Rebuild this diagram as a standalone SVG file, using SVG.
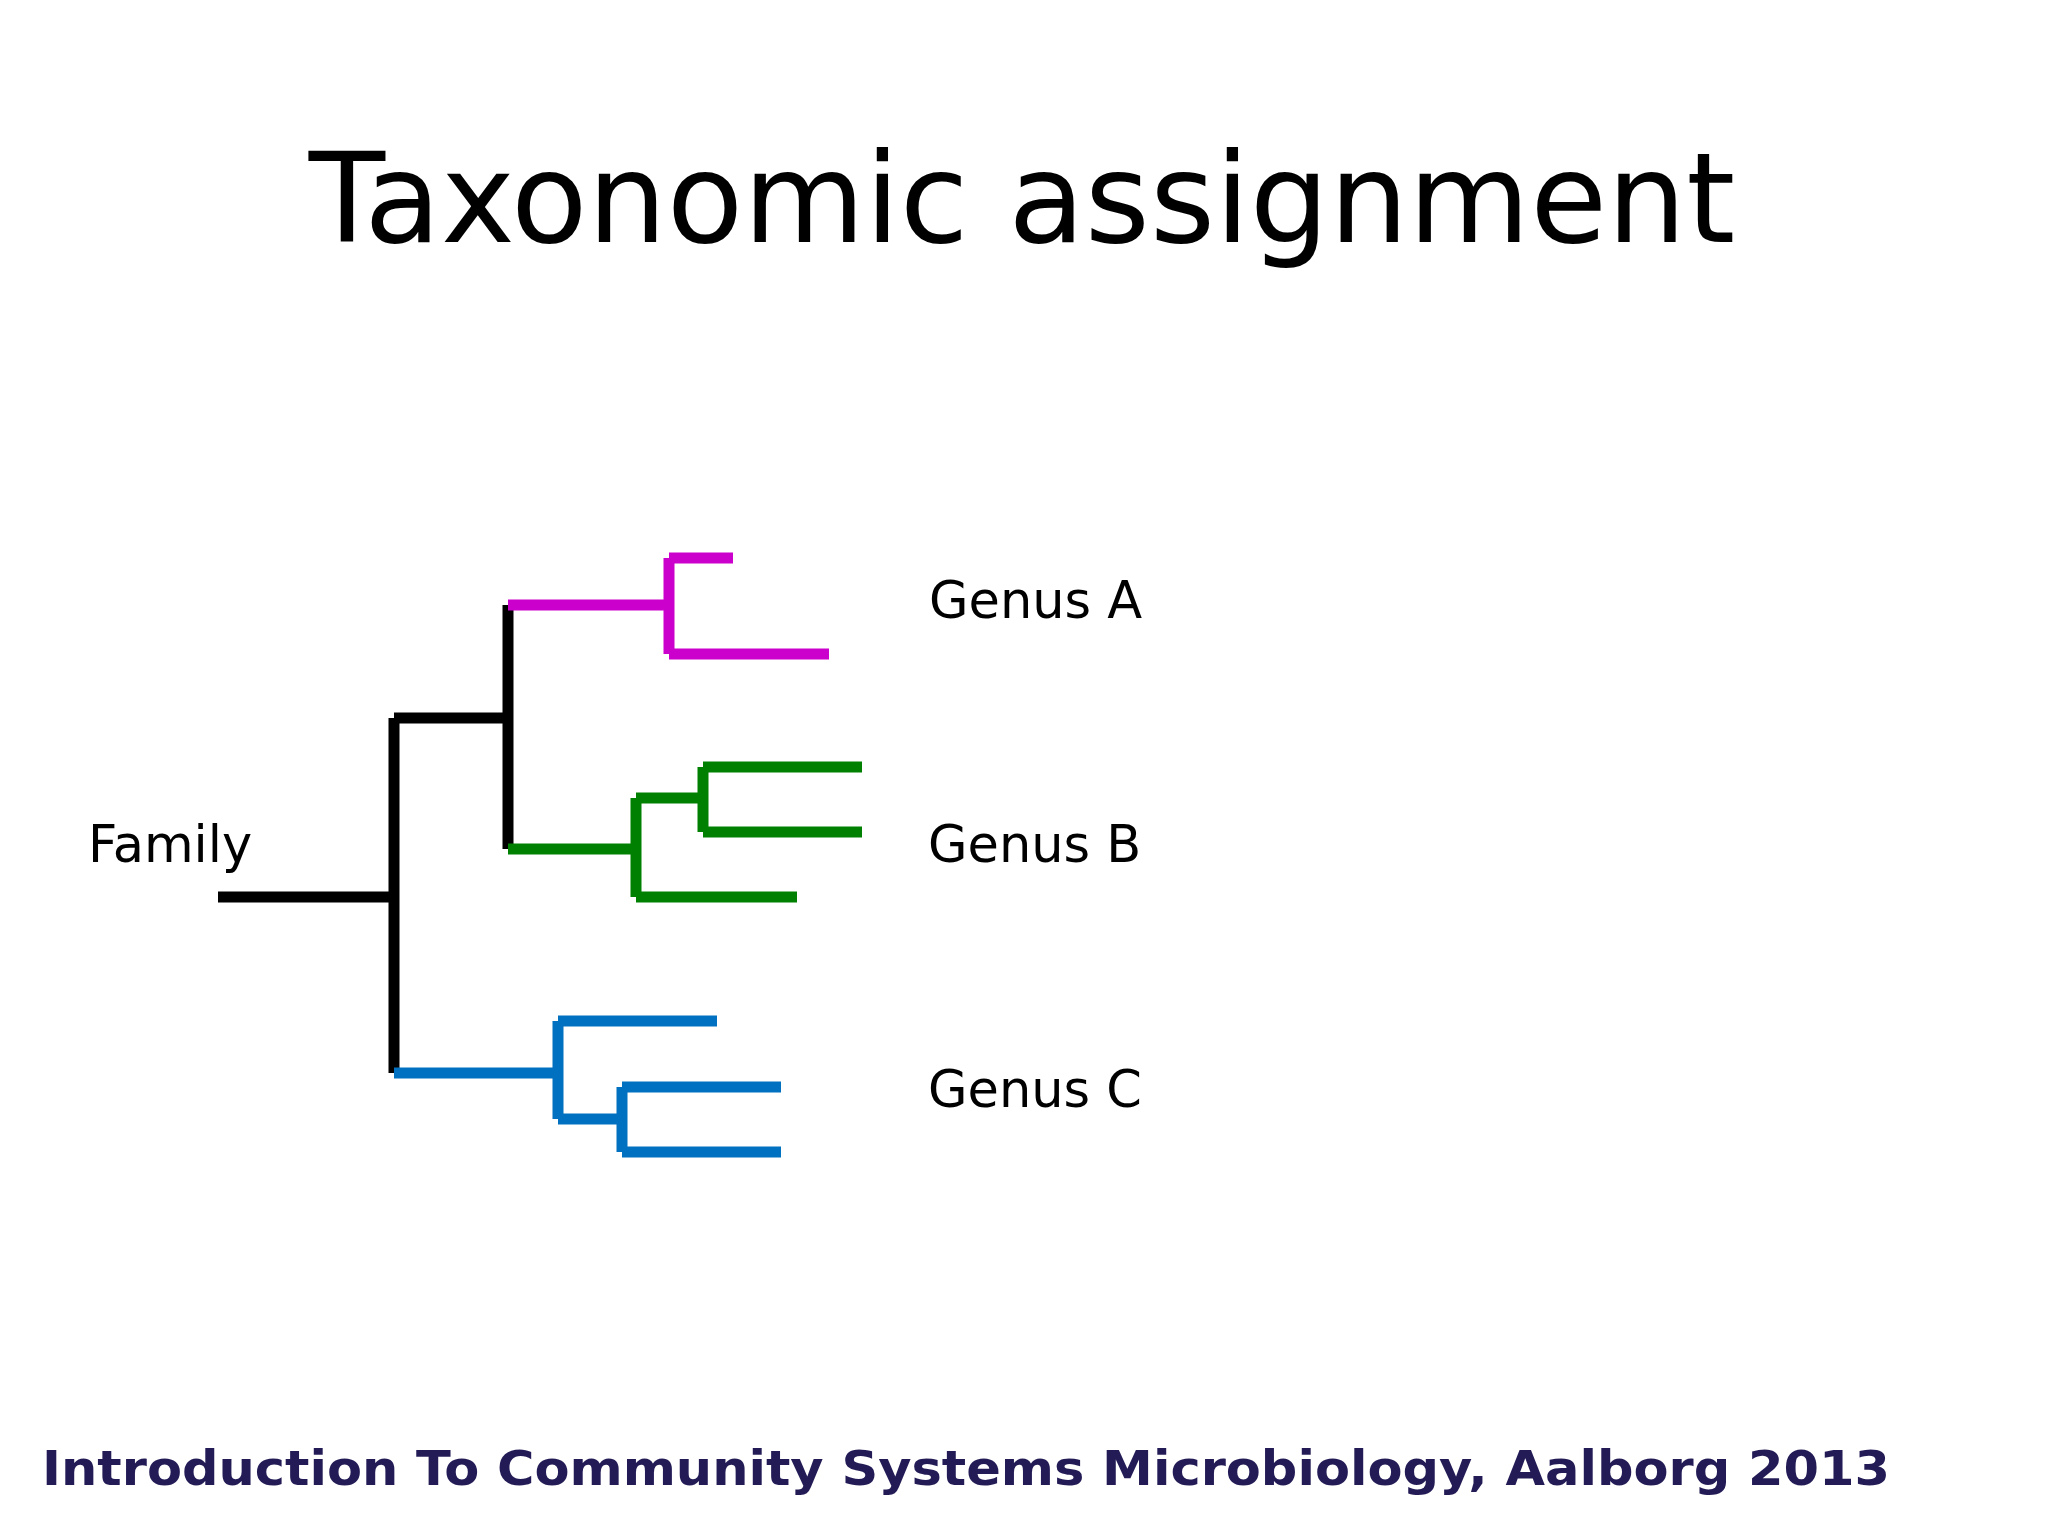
<svg xmlns="http://www.w3.org/2000/svg" width="2048" height="1536" viewBox="0 0 2048 1536">
<style>
.t{font-family:"DejaVu Sans",sans-serif;fill:#000}
.l{fill:none;stroke-width:11;stroke-linecap:butt}
.k{stroke:#000}.m{stroke:#cc00cc}.g{stroke:#008000}.b{stroke:#0070c0}
</style>
<rect width="2048" height="1536" fill="#fff"/>
<text class="t" x="1022" y="242" font-size="125" text-anchor="middle">Taxonomic assignment</text>
<g id="connectors">
<path class="l k" d="M218 897H394M394 718V1073M394 718H508M508 605V849"/>
<path class="l m" d="M508 605H669M669 558V654M669 558H733M669 654H829"/>
<path class="l g" d="M508 849H636M636 798V897M636 798H703M703 767V832M703 767H862M703 832H862M636 897H797"/>
<path class="l b" d="M394 1073H558M558 1021V1119M558 1021H717M558 1119H622M622 1087V1152M622 1087H781M622 1152H781"/>
</g>
<g id="family"><text class="t" x="88" y="862" font-size="51">Family</text></g>
<g id="genusA"><text class="t" x="929" y="618" font-size="51">Genus A</text></g>
<g id="genusB"><text class="t" x="928" y="862" font-size="51">Genus B</text></g>
<g id="genusC"><text class="t" x="928" y="1107" font-size="51">Genus C</text></g>
<text x="42" y="1485" font-family="DejaVu Sans,sans-serif" font-weight="bold" font-size="48" fill="#221b55" textLength="1848" lengthAdjust="spacingAndGlyphs">Introduction To Community Systems Microbiology, Aalborg 2013</text>
</svg>
